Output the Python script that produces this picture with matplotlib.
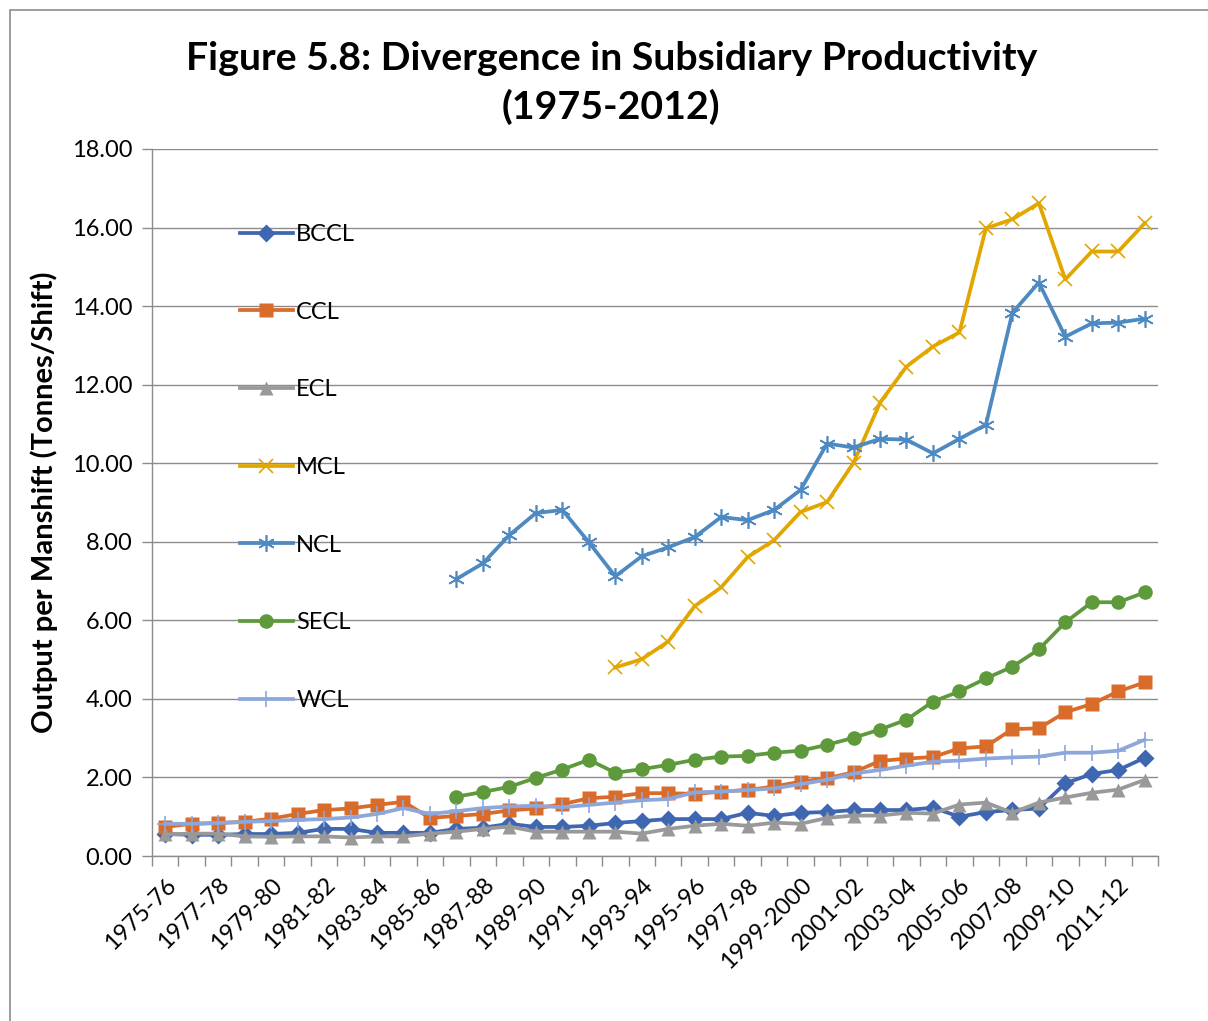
import numpy as np
import matplotlib.pyplot as plt
from matplotlib.patches import Rectangle

plt.rcParams['font.family'] = ['Lato', 'DejaVu Sans']

## years 1975-76 .. 2012-13
years = []
for y in range(1975, 2013):
    if y == 1999:
        years.append("1999-2000")
    else:
        years.append("%d-%02d" % (y, (y + 1) % 100))

nan = np.nan

bccl = [0.56, 0.54, 0.54, 0.56, 0.56, 0.59, 0.69, 0.69, 0.59, 0.59,
        0.59, 0.69, 0.72, 0.82, 0.74, 0.74, 0.77, 0.84, 0.89, 0.94,
        0.94, 0.94, 1.10, 1.02, 1.10, 1.12, 1.17, 1.17, 1.17, 1.23,
        1.00, 1.12, 1.17, 1.21, 1.85, 2.09, 2.19, 2.50]
ccl = [0.74, 0.82, 0.84, 0.87, 0.95, 1.07, 1.17, 1.21, 1.30, 1.38,
       0.97, 1.02, 1.07, 1.16, 1.21, 1.32, 1.47, 1.51, 1.60, 1.60,
       1.58, 1.64, 1.68, 1.77, 1.89, 1.98, 2.13, 2.42, 2.48, 2.52,
       2.74, 2.79, 3.23, 3.25, 3.66, 3.87, 4.19, 4.42]
ecl = [0.55, 0.57, 0.57, 0.50, 0.49, 0.50, 0.50, 0.47, 0.50, 0.50,
       0.57, 0.62, 0.69, 0.75, 0.62, 0.62, 0.62, 0.62, 0.57, 0.69,
       0.77, 0.82, 0.77, 0.85, 0.82, 0.97, 1.03, 1.03, 1.10, 1.08,
       1.31, 1.36, 1.10, 1.36, 1.49, 1.61, 1.69, 1.94]
mcl = [nan] * 17 + [4.80, 5.01, 5.46, 6.36, 6.84, 7.61, 8.04, 8.76, 9.01,
                    10.01, 11.54, 12.46, 12.97, 13.33, 15.98, 16.21, 16.62,
                    14.68, 15.39, 15.39, 16.11]
ncl = [nan] * 11 + [7.05, 7.45, 8.17, 8.73, 8.81, 7.99, 7.12, 7.63, 7.86,
                    8.12, 8.63, 8.55, 8.81, 9.32, 10.50, 10.40, 10.62,
                    10.60, 10.25, 10.62, 10.98, 13.83, 14.60, 13.22,
                    13.56, 13.58, 13.68]
secl = [nan] * 11 + [1.51, 1.63, 1.76, 1.99, 2.20, 2.45, 2.12, 2.21, 2.32,
                     2.45, 2.53, 2.55, 2.63, 2.68, 2.83, 3.01, 3.22, 3.47,
                     3.93, 4.19, 4.52, 4.82, 5.26, 5.95, 6.46, 6.46, 6.71]
wcl = [0.82, 0.82, 0.84, 0.87, 0.89, 0.92, 0.94, 0.98, 1.07, 1.22,
       1.07, 1.14, 1.22, 1.26, 1.28, 1.24, 1.30, 1.36, 1.42, 1.45,
       1.62, 1.64, 1.68, 1.72, 1.83, 1.94, 2.10, 2.19, 2.30, 2.40,
       2.43, 2.48, 2.51, 2.53, 2.63, 2.63, 2.68, 2.96]

series = [
    ("BCCL", bccl, '#3F66B0', 'D', 9, 'none'),
    ("CCL", ccl, '#D96B2B', 's', 9.5, 'none'),
    ("ECL", ecl, '#999999', '^', 10.5, 'none'),
    ("MCL", mcl, '#E2A600', 'x', 10, None),
    ("NCL", ncl, '#4E89C1', (6, 2, 0), 12, None),
    ("SECL", secl, '#5E9A3B', 'o', 10.5, 'none'),
    ("WCL", wcl, '#8EA7DB', '+', 12, None),
]

fig = plt.figure(figsize=(12.08, 10.21), dpi=100)
ax = fig.add_axes([0.1258, 0.1616, 0.8328, 0.6925])

x = np.arange(len(years))
for name, vals, col, mk, ms, mec in series:
    if mec == 'none':
        ax.plot(x, vals, color=col, lw=2.7, marker=mk, ms=ms,
                markeredgecolor='none', label=name, zorder=3)
    else:
        ax.plot(x, vals, color=col, lw=2.7, marker=mk, ms=ms,
                markeredgewidth=1.2, label=name, zorder=3)

ax.set_xlim(-0.5, len(years) - 0.5)
ax.set_ylim(0, 18)
ax.set_yticks(np.arange(0, 18.1, 2))
ax.set_yticklabels(["%.2f" % v for v in np.arange(0, 18.1, 2)], fontsize=17)
ax.grid(axis='y', color='#8c8c8c', lw=1)
ax.set_axisbelow(True)

ax.set_xticks(x[::2])
ax.set_xticklabels(years[::2], rotation=45, ha='right', va='top',
                   rotation_mode='anchor', fontsize=17)
ax.set_xticks(np.arange(-0.5, len(years)), minor=True)
ax.tick_params(axis='x', which='major', length=0, pad=13)
ax.tick_params(axis='x', which='minor', length=7, color='#8c8c8c', width=1)
ax.tick_params(axis='y', length=7, color='#8c8c8c', width=1, pad=7)

for s in ['top', 'right']:
    ax.spines[s].set_visible(False)
for s in ['left', 'bottom']:
    ax.spines[s].set_color('#8c8c8c')
    ax.spines[s].set_linewidth(1)

ax.set_ylabel("Output per Manshift (Tonnes/Shift)", fontsize=21,
              fontweight='bold', labelpad=10)

leg = ax.legend(loc='upper left', bbox_to_anchor=(0.066, 0.924),
                frameon=False, fontsize=17, handlelength=2.25,
                handletextpad=0.15, labelspacing=2.40)

fig.text(0.506, 1 - 83 / 1021, "Figure 5.8: Divergence in Subsidiary Productivity\n(1975-2012)",
         ha='center', va='center', fontsize=28.3, fontweight='bold', linespacing=1.42)

# chart border (cut at right/bottom like the reference)
fig.patches.append(Rectangle((10 / 1208, -0.1), 1.2, 1 - 10 / 1021 + 0.1,
                             transform=fig.transFigure, fill=False,
                             edgecolor='#8c8c8c', lw=1.2))

plt.savefig("out.png", dpi=100)
